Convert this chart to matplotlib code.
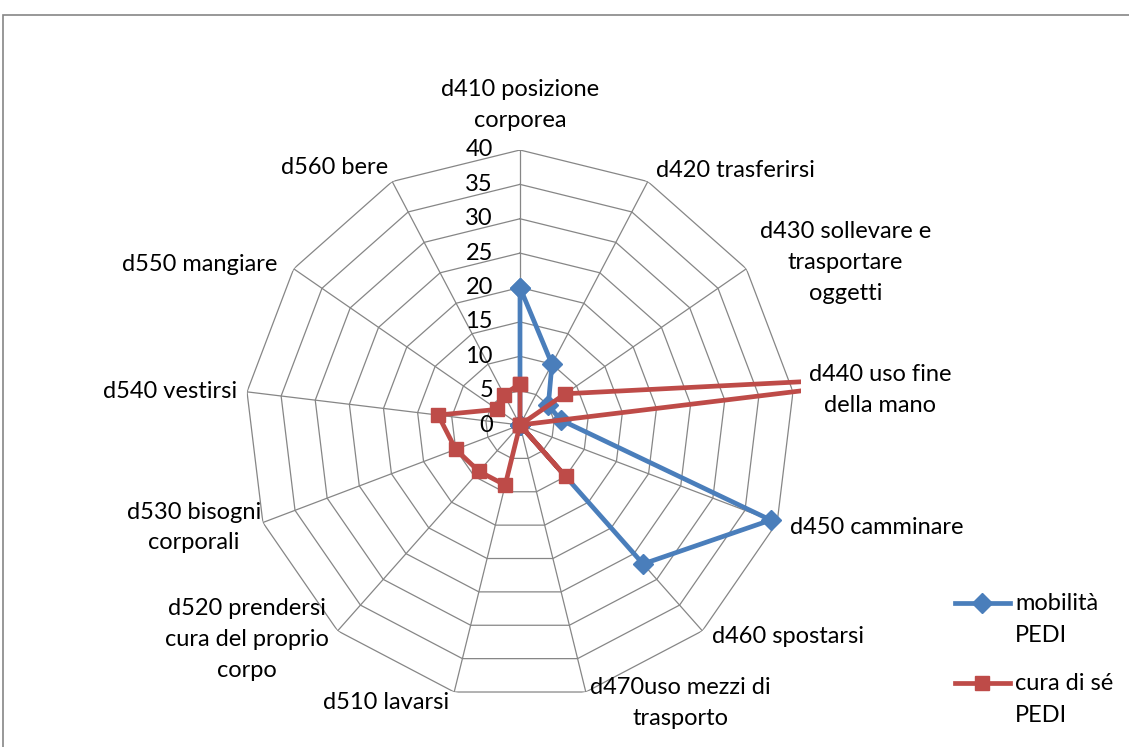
import numpy as np
import matplotlib
matplotlib.use("Agg")
import matplotlib.pyplot as plt
from matplotlib.patches import Rectangle
from matplotlib.lines import Line2D

plt.rcParams['font.family'] = ['Lato', 'DejaVu Sans']

categories = [
    "d410 posizione\ncorporea",
    "d420 trasferirsi",
    "d430 sollevare e\ntrasportare\noggetti",
    "d440 uso fine\ndella mano",
    "d450 camminare",
    "d460 spostarsi",
    "d470uso mezzi di\ntrasporto",
    "d510 lavarsi",
    "d520 prendersi\ncura del proprio\ncorpo",
    "d530 bisogni\ncorporali",
    "d540 vestirsi",
    "d550 mangiare",
    "d560 bere",
]
mobilita = [20, 10, 5, 6, 39, 27, 0, 0, 0, 0, 0, 0, 0]
cura_di_se = [6, 0, 8, 60, 0, 10, 0, 9, 9, 10, 12, 4, 5]
series_names = ["mobilità\nPEDI", "cura di sé\nPEDI"]
r_ticks = [0, 5, 10, 15, 20, 25, 30, 35, 40]
r_max = 40

blue = "#4A7EBB"
red = "#BE4B48"
grid_col = "#868686"
FS = 17

W, H = 1129, 747
fig = plt.figure(figsize=(W / 100, H / 100), dpi=100)

# outer chart frame
fig.add_artist(Rectangle((3 / W, -0.2), 1.2, 1.2 - 15 / H, transform=fig.transFigure,
                         fill=False, edgecolor=grid_col, linewidth=1.2))

cx, cy, R = 520, 425, 275
ax = fig.add_axes([(cx - R) / W, 1 - (cy + R) / H, 2 * R / W, 2 * R / H],
                  projection="polar")
ax.set_theta_zero_location("N")
ax.set_theta_direction(-1)
ax.set_ylim(0, r_max)
ax.grid(False)
ax.spines["polar"].set_visible(False)
ax.set_xticks([])
ax.set_yticks([])
ax.patch.set_alpha(0)

n = len(categories)
theta = np.arange(n) * 2 * np.pi / n
theta_closed = np.append(theta, theta[0])

# polygonal gridlines and spokes
for r in r_ticks[1:]:
    ax.plot(theta_closed, [r] * (n + 1), color=grid_col, lw=0.9, zorder=1)
for t in theta:
    ax.plot([t, t], [0, r_max], color=grid_col, lw=0.9, zorder=1)

# radial scale labels
for r in r_ticks:
    ax.annotate(str(r), xy=(0, r), xytext=(-27, 0), textcoords="offset pixels",
                ha="right", va="center", fontsize=FS, color="black")

clip = Rectangle((-0.01, -0.01), 1.02, 1.02, transform=ax.transAxes)

series = [
    (mobilita, blue, "D", 10),
    (cura_di_se, red, "s", 9.5),
]
for vals, col, mk, ms in series:
    v = np.append(vals, vals[0])
    ln, = ax.plot(theta_closed, v, color=col, lw=3.4, marker=mk, ms=ms,
                  markeredgecolor=col, markerfacecolor=col, zorder=3,
                  solid_joinstyle="round")
    ln.set_clip_path(clip)

# category labels (pixel offsets from each outer vertex)
label_offsets = [
    (0, 45, "center"),
    (8, 11, "left"),
    (99, 6, "center"),
    (87, 2, "center"),
    (13, -5, "left"),
    (10, -6, "left"),
    (95, -11, "center"),
    (-68, -10, "center"),
    (-91, -9, "center"),
    (-69, -5, "center"),
    (-77, 0, "center"),
    (-94, 4, "center"),
    (-58, 14, "center"),
]
for t, lab, (dx, dy, ha) in zip(theta, categories, label_offsets):
    ax.annotate(lab, xy=(t, r_max), xytext=(dx, dy), textcoords="offset pixels",
                ha=ha, va="center", fontsize=FS, linespacing=1.58,
                multialignment="center", annotation_clip=False)

# legend
for i, (name, (vals, col, mk, ms)) in enumerate(zip(series_names, series)):
    y = 1 - (603 + 80 * i) / H
    xs = np.array([955, 982, 1010]) / W
    fig.add_artist(Line2D(xs, [y] * 3, transform=fig.transFigure, color=col,
                          lw=3.4, marker=mk, ms=ms, markevery=[1],
                          markeredgecolor=col, markerfacecolor=col))
    for j, line in enumerate(name.split("\n")):
        fig.text(1015 / W, y - 32 * j / H, line, ha="left", va="center",
                 fontsize=FS, transform=fig.transFigure)

fig.savefig("out.png", dpi=100)
